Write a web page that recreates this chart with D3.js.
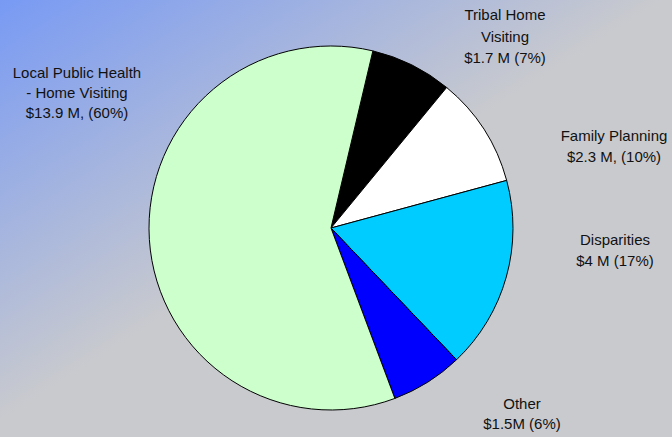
<!DOCTYPE html>
<html>
<head>
<meta charset="utf-8">
<script src="https://cdn.jsdelivr.net/npm/d3@7"></script>
<style>
  html, body { margin: 0; padding: 0; }
  svg { display: block; font-family: "Liberation Sans", Arial, sans-serif; }
</style>
</head>
<body>
<script>
// values in $ millions, clockwise from the top
var categories = ["Tribal Home Visiting", "Family Planning", "Disparities", "Other", "Local Public Health - Home Visiting"];
var values = [1.7, 2.3, 4.0, 1.5, 13.9];
var labelLines = [
    ["Tribal Home", "Visiting", "$1.7 M (7%)"],
    ["Family Planning", "$2.3 M, (10%)"],
    ["Disparities", "$4 M (17%)"],
    ["Other", "$1.5M (6%)"],
    ["Local Public Health", "- Home Visiting", "$13.9 M, (60%)"]
];
var colors = ["#000000", "#ffffff", "#00ccff", "#0000ff", "#ccffcc"];

// where each label block sits (center x, first baseline y)
var labelPos = [[505, 20], [614, 141], [615, 245], [522, 409], [77, 78]];
var lineGap = [21.5, 21, 20.5, 20, 20];

var width = 672, height = 437;
var cx = 331, cy = 228, radius = 182;

var svg = d3.select("body")
    .append("svg")
    .attr("width", width)
    .attr("height", height);

var grad = svg.append("defs").append("linearGradient")
    .attr("id", "bg")
    .attr("gradientUnits", "userSpaceOnUse")
    .attr("x1", 0).attr("y1", 0)
    .attr("x2", 190).attr("y2", 300);
grad.append("stop").attr("offset", "0%").attr("stop-color", "#789af4");
grad.append("stop").attr("offset", "100%").attr("stop-color", "#c9cace");

svg.append("rect")
    .attr("width", width)
    .attr("height", height)
    .attr("fill", "url(#bg)");

var pie = d3.pie()
    .sort(null)
    .startAngle(13.3 * Math.PI / 180)
    .endAngle(13.3 * Math.PI / 180 + 2 * Math.PI);

var arc = d3.arc()
    .innerRadius(0)
    .outerRadius(radius);

var g = svg.append("g")
    .attr("transform", `translate(${cx},${cy})`);

g.selectAll("path")
    .data(pie(values))
    .join("path")
    .attr("d", arc)
    .attr("fill", (d, i) => colors[i])
    .attr("stroke", "#000")
    .attr("stroke-width", 1);

var labels = svg.append("g")
    .selectAll("text")
    .data(categories)
    .join("text")
    .attr("text-anchor", "middle")
    .attr("font-size", 15)
    .attr("fill", "#111")
    .attr("x", (d, i) => labelPos[i][0])
    .attr("y", (d, i) => labelPos[i][1]);

labels.each(function(d, i) {
    d3.select(this).selectAll("tspan")
        .data(labelLines[i])
        .join("tspan")
        .attr("x", labelPos[i][0])
        .attr("y", (t, j) => labelPos[i][1] + j * lineGap[i])
        .text(t => t);
});
</script>
</body>
</html>
